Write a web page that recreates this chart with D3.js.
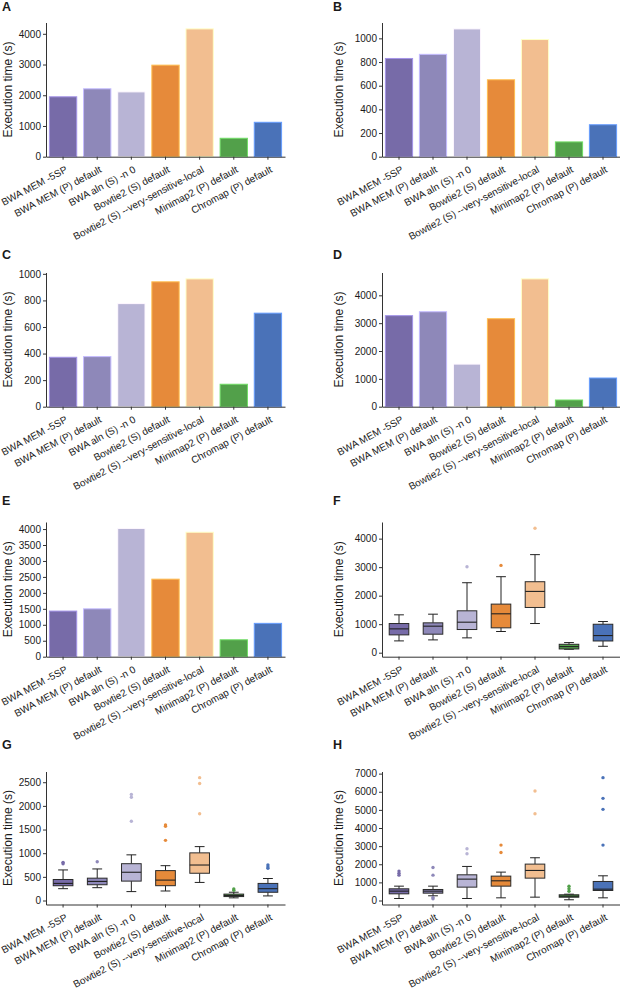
<!DOCTYPE html>
<html><head><meta charset="utf-8">
<script src="https://cdn.jsdelivr.net/npm/d3@7"></script>
<style>
body{margin:0;background:#fff}
svg{display:block}
text{font-family:"Liberation Sans",Arial,Helvetica,sans-serif;fill:#1a1a1a}
</style>
</head><body>
<svg id="c" width="620" height="991"></svg>
<script>
// ---------- data ----------
const categories = ["BWA MEM -5SP","BWA MEM (P) default","BWA aln (S) -n 0","Bowtie2 (S) default","Bowtie2 (S) --very-sensitive-local","Minimap2 (P) default","Chromap (P) default"];
const colors = ["#776ba8","#8e88b9","#b8b4d5","#e68a3a","#f2be90","#52a04a","#4a72b8"];

const timesA = [1950, 2210, 2110, 2980, 4160, 600, 1120];
const timesB = [830, 865, 1080, 650, 990, 125, 270];
const timesC = [372, 377, 776, 940, 962, 169, 704];
const timesD = [3270, 3410, 1530, 3160, 4590, 240, 1030];
const timesE = [1430, 1500, 4020, 2430, 3900, 530, 1045];

const ticksA = [0, 1000, 2000, 3000, 4000];
const ticksB = [0, 200, 400, 600, 800, 1000];
const ticksC = [0, 200, 400, 600, 800, 1000];
const ticksD = [0, 1000, 2000, 3000, 4000];
const ticksE = [0, 500, 1000, 1500, 2000, 2500, 3000, 3500, 4000];
const ticksF = [0, 1000, 2000, 3000, 4000];
const ticksG = [0, 500, 1000, 1500, 2000, 2500];
const ticksH = [0, 1000, 2000, 3000, 4000, 5000, 6000, 7000];

// box statistics: lower whisker, Q1, median, Q3, upper whisker, outliers
const lowF = [414, 449, 520, 743, 1023, 120, 225];
const q1F  = [625, 649, 813, 872, 1586, 131, 411];
const medF = [836, 930, 1070, 1364, 2149, 214, 601];
const q3F  = [1023, 1047, 1469, 1704, 2489, 295, 998];
const highF = [1328, 1351, 2454, 2665, 3439, 355, 1093];
const outF = [[], [], [3015], [3062], [4365], [], []];

const lowG = [250, 271, 188, 201, 382, 56, 97];
const q1G  = [312, 333, 410, 313, 576, 83, 174];
const medG = [361, 403, 597, 431, 750, 105, 250];
const q3G  = [444, 472, 778, 632, 1007, 135, 361];
const highG = [646, 667, 965, 736, 1139, 175, 465];
const outG = [[778, 806], [819], [1674, 2181, 2243], [1271, 1569, 1597], [1833, 2472, 2597], [215, 243], [680, 708, 750]];

const lowH = [111, 260, 111, 147, 184, 40, 147];
const q1H  = [368, 405, 737, 792, 1234, 182, 553];
const medH = [516, 516, 1179, 1087, 1658, 238, 626];
const q3H  = [645, 608, 1418, 1345, 2008, 315, 1050];
const highH = [792, 792, 1879, 1566, 2358, 348, 1363];
const outH = [[1400, 1510, 1621], [100, 170, 1400, 1824], [2579, 2855], [2652, 3058], [4789, 6042], [514, 646, 790], [3058, 5029, 5637, 6779]];

// ---------- layout ----------
const svg = d3.select("#c");
const colLeft = [0, 331];
const colAxis = [46, 382];
const colRight = [285, 620];
const rowTop = [22.5, 272.5, 522, 771.5];
const rowBottom = [156.7, 406.7, 656.7, 904.5];
const letterBase = [11, 258.5, 505, 748.5];

const panels = [
  {id:"A", col:0, row:0, type:"bar", values:timesA, ticks:ticksA},
  {id:"B", col:1, row:0, type:"bar", values:timesB, ticks:ticksB},
  {id:"C", col:0, row:1, type:"bar", values:timesC, ticks:ticksC},
  {id:"D", col:1, row:1, type:"bar", values:timesD, ticks:ticksD},
  {id:"E", col:0, row:2, type:"bar", values:timesE, ticks:ticksE},
  {id:"F", col:1, row:2, type:"box", low:lowF, q1:q1F, med:medF, q3:q3F, high:highF, out:outF, ticks:ticksF},
  {id:"G", col:0, row:3, type:"box", low:lowG, q1:q1G, med:medG, q3:q3G, high:highG, out:outG, ticks:ticksG},
  {id:"H", col:1, row:3, type:"box", low:lowH, q1:q1H, med:medH, q3:q3H, high:highH, out:outH, ticks:ticksH}
];

panels.forEach(p => {
  const g = svg.append("g");
  const left = colAxis[p.col], right = colRight[p.col];
  const top = rowTop[p.row], bottom = rowBottom[p.row];
  const x = d3.scaleBand().domain(categories).range([left, right]).paddingInner(0.2).paddingOuter(0.1);
  const bw = x.bandwidth();
  let y;
  if (p.type === "bar") {
    const ymax = d3.max(p.values) * 1.05;
    y = d3.scaleLinear().domain([0, ymax]).range([bottom, top]);
  } else {
    const all = p.high.concat(p.out.flat());
    const ymax = d3.max(all) * 1.05;
    const zero = bottom - 4;
    const y0 = d3.scaleLinear().domain([0, ymax]).range([zero, top]);
    y = d3.scaleLinear().domain([y0.invert(bottom), ymax]).range([bottom, top]);
  }

  // marks
  if (p.type === "bar") {
    g.selectAll("rect.bar").data(p.values).join("rect")
      .attr("x", (d,i) => x(categories[i]))
      .attr("y", d => y(d))
      .attr("width", bw)
      .attr("height", d => y(0) - y(d))
      .attr("fill", (d,i) => colors[i])
      .attr("stroke", (d,i) => d3.color(colors[i]).brighter(0.9))
      .attr("stroke-width", 1);
  } else {
    const boxW = bw * 0.72;
    categories.forEach((c, i) => {
      const cx = x(c) + bw / 2;
      const bg = g.append("g");
      bg.append("line").attr("x1", cx).attr("x2", cx).attr("y1", y(p.low[i])).attr("y2", y(p.q1[i])).attr("stroke", "#222");
      bg.append("line").attr("x1", cx).attr("x2", cx).attr("y1", y(p.q3[i])).attr("y2", y(p.high[i])).attr("stroke", "#222");
      bg.append("line").attr("x1", cx - boxW/4).attr("x2", cx + boxW/4).attr("y1", y(p.low[i])).attr("y2", y(p.low[i])).attr("stroke", "#222");
      bg.append("line").attr("x1", cx - boxW/4).attr("x2", cx + boxW/4).attr("y1", y(p.high[i])).attr("y2", y(p.high[i])).attr("stroke", "#222");
      bg.append("rect").attr("x", cx - boxW/2).attr("width", boxW)
        .attr("y", y(p.q3[i])).attr("height", y(p.q1[i]) - y(p.q3[i]))
        .attr("fill", colors[i]).attr("stroke", "#2a2a2a").attr("stroke-width", 1);
      bg.append("line").attr("x1", cx - boxW/2).attr("x2", cx + boxW/2).attr("y1", y(p.med[i])).attr("y2", y(p.med[i])).attr("stroke", "#222").attr("stroke-width", 1.1);
      bg.selectAll("circle").data(p.out[i]).join("circle")
        .attr("cx", cx).attr("cy", d => y(d)).attr("r", 1.7).attr("fill", colors[i]);
    });
  }

  // axes
  const ya = g.append("g").attr("transform", `translate(${left},0)`)
    .call(d3.axisLeft(y).tickValues(p.ticks).tickFormat(d3.format("d")).tickSize(3).tickPadding(2).tickSizeOuter(0));
  ya.selectAll("text").style("font-size", "10px").attr("fill", "#1a1a1a");
  ya.selectAll("path,line").attr("stroke", "#333");

  const xa = g.append("g").attr("transform", `translate(0,${bottom})`)
    .call(d3.axisBottom(x).tickSize(3).tickSizeOuter(0));
  xa.selectAll("path,line").attr("stroke", "#333");
  xa.selectAll("text")
    .attr("x", 0).attr("y", 0).attr("dy", 0)
    .attr("text-anchor", "end")
    .attr("transform", "translate(5,15) rotate(-28)")
    .style("font-size", "10px").attr("fill", "#1a1a1a");

  // y title
  g.append("text")
    .attr("transform", `translate(${colLeft[p.col] + 12},${(top + bottom) / 2}) rotate(-90)`)
    .attr("text-anchor", "middle")
    .style("font-size", "12px")
    .text("Execution time (s)");

  // panel letter
  g.append("text")
    .attr("x", colLeft[p.col] + 2).attr("y", letterBase[p.row])
    .style("font-size", "12.5px").style("font-weight", "bold")
    .text(p.id);
});
</script>
</body></html>
